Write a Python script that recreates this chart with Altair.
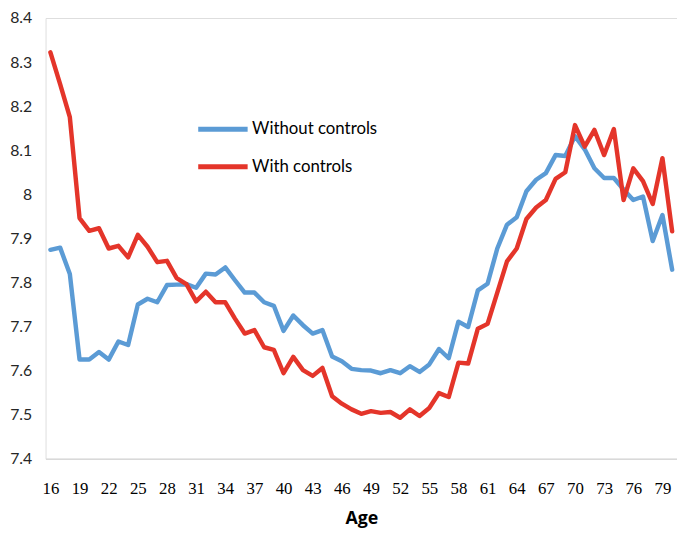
import altair as alt
import pandas as pd

ages = list(range(16, 81))

without_controls = [
    7.874, 7.879, 7.819, 7.625, 7.625, 7.642, 7.625, 7.666, 7.658, 7.750,
    7.763, 7.755, 7.794, 7.795, 7.796, 7.788, 7.820, 7.818, 7.834, 7.805,
    7.777, 7.777, 7.755, 7.747, 7.690, 7.725, 7.703, 7.684, 7.692, 7.632,
    7.621, 7.604, 7.601, 7.600, 7.594, 7.601, 7.594, 7.610, 7.597, 7.614,
    7.649, 7.628, 7.711, 7.699, 7.782, 7.797, 7.877, 7.931, 7.948, 8.007,
    8.033, 8.048, 8.089, 8.087, 8.132, 8.102, 8.059, 8.037, 8.037, 8.011,
    7.987, 7.995, 7.894, 7.953, 7.829,
]

with_controls = [
    8.322, 8.250, 8.175, 7.946, 7.917, 7.923, 7.877, 7.883, 7.857, 7.908,
    7.881, 7.846, 7.849, 7.810, 7.796, 7.757, 7.779, 7.755, 7.755, 7.718,
    7.684, 7.692, 7.653, 7.647, 7.594, 7.631, 7.601, 7.588, 7.606, 7.542,
    7.525, 7.512, 7.502, 7.508, 7.504, 7.506, 7.493, 7.512, 7.497, 7.515,
    7.549, 7.540, 7.618, 7.616, 7.695, 7.706, 7.777, 7.848, 7.877, 7.944,
    7.970, 7.987, 8.035, 8.050, 8.157, 8.108, 8.146, 8.089, 8.148, 7.987,
    8.059, 8.030, 7.978, 8.082, 7.916,
]

series_names = ["Without controls", "With controls"]
series_colors = ["#5B9BD5", "#E4352A"]
x_tick_labels = list(range(16, 80, 3))
y_tick_labels = [7.4, 7.5, 7.6, 7.7, 7.8, 7.9, 8.0, 8.1, 8.2, 8.3, 8.4]

rows = []
for i, a in enumerate(ages):
    rows.append({"Age": a, "Value": without_controls[i], "Series": series_names[0], "ord": 0})
for i, a in enumerate(ages):
    rows.append({"Age": a, "Value": with_controls[i], "Series": series_names[1], "ord": 1})
df = pd.DataFrame(rows)

chart = (
    alt.Chart(df)
    .mark_line(strokeWidth=4.5, strokeCap="round", strokeJoin="round")
    .encode(
        x=alt.X(
            "Age:Q",
            scale=alt.Scale(domain=[15.5, 80.5], nice=False, zero=False),
            axis=alt.Axis(
                values=x_tick_labels,
                title="Age",
                grid=False,
                ticks=False,
                tickSize=0,
                domainColor="#D9D9D9",
                domainWidth=1.5,
                labelFont="Liberation Serif",
                labelFontSize=17,
                labelColor="#000000",
                labelPadding=22,
                labelFlush=False,
                titleFont="Open Sans",
                titleFontWeight="bold",
                titleFontSize=18,
                titleColor="#000000",
                titlePadding=14,
            ),
        ),
        y=alt.Y(
            "Value:Q",
            scale=alt.Scale(domain=[7.4, 8.4], nice=False, zero=False),
            axis=alt.Axis(
                values=y_tick_labels,
                format=".1~f",
                title=None,
                grid=False,
                ticks=False,
                domain=False,
                labelFont="Lato",
                labelFontSize=16,
                labelColor="#262626",
                labelPadding=14,
            ),
        ),
        color=alt.Color(
            "Series:N",
            scale=alt.Scale(domain=series_names, range=series_colors),
            sort=series_names,
            legend=alt.Legend(
                title=None,
                orient="none",
                legendX=152,
                legendY=85,
                symbolType="stroke",
                symbolSize=2500,
                symbolStrokeWidth=5,
                rowPadding=-7,
                labelFont="Lato",
                labelFontSize=17,
                labelColor="#000000",
                labelOffset=2,
            ),
        ),
        order=alt.Order("ord:Q"),
        detail="Series:N",
    )
    .properties(
        width=639,
        height=446,
        autosize=alt.AutoSizeParams(type="none"),
        padding={"left": 38, "top": 7, "right": 0, "bottom": 70},
    )
    .configure_view(stroke=None)
    .configure(background="white")
)

chart.save("out.html", embed_options={"renderer": "svg", "actions": False})
